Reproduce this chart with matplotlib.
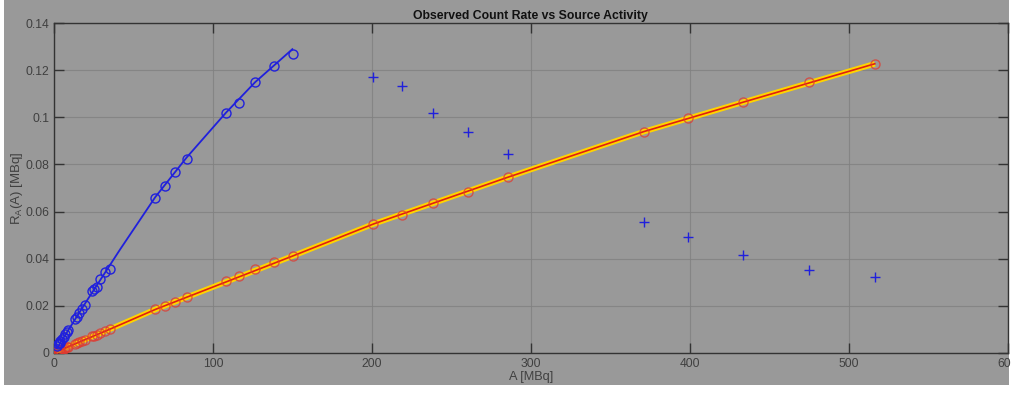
import matplotlib
matplotlib.use("Agg")
import matplotlib.pyplot as plt
from matplotlib.patches import Rectangle

plt.rcParams['font.family'] = ['Liberation Sans', 'DejaVu Sans']

# Activity values (MBq)
activity = [2, 2.5, 3, 3.5, 4, 5, 6, 7, 8, 9, 13, 14.5, 16, 17.8, 19.7,
            24, 25.2, 27, 29.1, 32.3, 35.2,
            63.8, 69.7, 76.0, 83.5, 108.2, 116.4, 126.6, 138.6, 150.6,
            201.0, 218.8, 238.3, 260.2, 285.7, 371.3, 399.2, 433.8, 475.0, 516.5]

# Observed rate (blue circles), first 30 activity values
observed = [0.0030, 0.0035, 0.0040, 0.0043, 0.0050, 0.0058, 0.0068, 0.0080, 0.0088, 0.0096,
            0.0142, 0.0152, 0.0168, 0.0184, 0.0201, 0.0262, 0.0272, 0.0280, 0.0312, 0.0343, 0.0356,
            0.0657, 0.0708, 0.0770, 0.0825, 0.1017, 0.1062, 0.1150, 0.1220, 0.1268]

# True/model rate (red circles), all activity values
model = [0.0006, 0.0007, 0.0009, 0.0010, 0.0012, 0.0014, 0.0017, 0.0020, 0.0023, 0.0026,
         0.0037, 0.0042, 0.0046, 0.0051, 0.0056, 0.0069, 0.0072, 0.0077, 0.0083, 0.0092, 0.0100,
         0.0184, 0.0198, 0.0215, 0.0235, 0.0305, 0.0326, 0.0355, 0.0385, 0.0412,
         0.0547, 0.0587, 0.0636, 0.0682, 0.0746, 0.0940, 0.0997, 0.1065, 0.1150, 0.1228]

# Plus markers (at the last 10 activity values)
plus_x = [201.0, 218.8, 238.3, 260.2, 285.7, 371.3, 399.2, 433.8, 475.0, 516.5]
plus_y = [0.1170, 0.1133, 0.1017, 0.0940, 0.0846, 0.0555, 0.0493, 0.0415, 0.0353, 0.0320]

# Fit curve for observed (blue line)
fit_obs_x = [2, 20, 41.5, 63.8, 83.5, 108.2, 126.6, 150.0]
fit_obs_y = [0.0021, 0.0214, 0.0438, 0.0662, 0.0830, 0.1020, 0.1150, 0.1290]

# Fit curve for model (yellow/red line)
fit_mod_x = [0, 35.2, 63.8, 150.6, 201.0, 285.7, 371.3, 433.8, 516.5]
fit_mod_y = [0, 0.0100, 0.0184, 0.0412, 0.0547, 0.0746, 0.0940, 0.1065, 0.1228]

xticks = [0, 100, 200, 300, 400, 500, 600]
yticks = [0, 0.02, 0.04, 0.06, 0.08, 0.1, 0.12, 0.14]
ytick_labels = ['0', '0.02', '0.04', '0.06', '0.08', '0.1', '0.12', '0.14']

gray = '#999999'
fig = plt.figure(figsize=(10.11, 3.96), dpi=100, facecolor='white')
fig.patches.append(Rectangle((4 / 1011, 11 / 396), 1005 / 1011, 385 / 396,
                             transform=fig.transFigure, facecolor=gray,
                             edgecolor='none', zorder=-10))
ax = fig.add_axes([54 / 1011, 43.3 / 396, 953.5 / 1011, 329.4 / 396])
ax.set_facecolor(gray)

ax.plot(fit_mod_x, fit_mod_y, color='#ffd400', lw=4.0, zorder=2, solid_capstyle='butt')
ax.plot(fit_mod_x, fit_mod_y, color='#e02010', lw=1.2, zorder=3)
ax.plot(activity, model, 'o', mfc='none', mec='#e03a30', mew=1.0, ms=6.5, alpha=0.75, zorder=4)

ax.plot(fit_obs_x, fit_obs_y, color='#2020dc', lw=1.3, zorder=5)
ax.plot(activity[:len(observed)], observed, 'o', mfc='none', mec='#2020dc', mew=1.0, ms=6.5, zorder=6)

ax.plot(plus_x, plus_y, '+', color='#2020dc', ms=7, mew=1.0, zorder=6)

ax.set_xlim(0, 600)
ax.set_ylim(0, 0.14)
ax.set_xticks(xticks)
ax.set_xticklabels([str(t) for t in xticks])
ax.set_yticks(yticks)
ax.set_yticklabels(ytick_labels)
ax.grid(True, color='#808080', lw=0.8, alpha=0.8)
ax.set_axisbelow(True)
ax.tick_params(direction='in', length=7, width=1.0, color='#333333', top=True, right=True,
               labelsize=8.7, labelcolor='#404040', pad=3.5)
for s in ax.spines.values():
    s.set_color('#333333')
    s.set_linewidth(1.0)

ax.set_title('Observed Count Rate vs Source Activity', fontsize=8.8, fontweight='bold',
             color='#111111', pad=3)
ax.set_xlabel('A [MBq]', fontsize=9.2, color='#404040', labelpad=1)
ax.set_ylabel(r'$\mathregular{R_A}$(A) [MBq]', fontsize=9.5, color='#404040')
ax.yaxis.set_label_coords(-0.030, 0.5)

fig.savefig('out.png', dpi=100, facecolor=fig.get_facecolor())
